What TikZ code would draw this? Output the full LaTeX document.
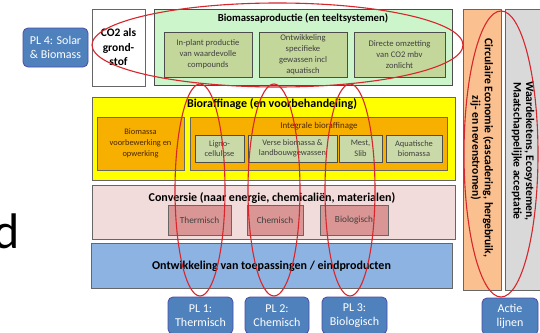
\documentclass[tikz,border=0pt]{standalone}
\usepackage{fontspec}
\setmainfont{Carlito}
\begin{document}
\begin{tikzpicture}[x=1pt,y=-1pt,
  box/.style={draw=#1, inner sep=0pt, outer sep=0pt, line width=0.8pt},
  plbox/.style={draw=blue!50!black!70!white, fill=plblue, rounded corners=5pt, inner sep=0pt, line width=0.8pt, text=white, align=center, font=\fontsize{12}{14.5}\selectfont},
  subg/.style={box=black!70, fill=subgreen, align=center, text=black!75, font=\fontsize{8.6}{11}\selectfont},
  subl/.style={box=black!70, fill=lightg, align=center, text=black!75, font=\fontsize{8.4}{10.5}\selectfont},
  subr/.style={box=black!60, fill=rosebox, align=center, text=black!75, font=\fontsize{9.3}{10}\selectfont},
  ttl/.style={font=\bfseries\fontsize{12}{14}\selectfont, inner sep=0pt},
  sidettl/.style={rotate=-90, align=center, inner sep=0pt, font=\bfseries\fontsize{11.6}{12.5}\selectfont},
  ring/.style={draw=ringred, line width=1.1pt}
]
\definecolor{plblue}{HTML}{4F81BD}
\definecolor{greenbg}{HTML}{CCF5CC}
\definecolor{subgreen}{HTML}{C4D79B}
\definecolor{yel}{HTML}{FFFF00}
\definecolor{orng}{HTML}{F7B000}
\definecolor{lightg}{HTML}{C9D9A8}
\definecolor{pinkbg}{HTML}{F2DCDB}
\definecolor{rosebox}{HTML}{D99694}
\definecolor{bluebg}{HTML}{8DB3E2}
\definecolor{peach}{HTML}{FAC090}
\definecolor{greybg}{HTML}{D9D9D9}
\definecolor{ringred}{HTML}{D7262C}
\useasboundingbox (0,0) rectangle (540,332);
\fill[white] (0,0) rectangle (540,332);

% left letter
\node[anchor=base east, inner sep=0pt, font=\fontsize{50}{50}\selectfont] (dd) at (20,248) {d};

% PL4
\node[plbox, minimum width=65pt, minimum height=39pt] (pl4) at (55.5,47.5) {PL 4: Solar\\\& Biomass};

% CO2
\node[box=black!60, fill=white, minimum width=53pt, minimum height=77pt, align=center, font=\bfseries\fontsize{11.5}{14.5}\selectfont] (co2) at (118.5,47.5) {CO2 als\\grond-\\stof};

% Biomassaproductie
\node[box=black!70, fill=greenbg, minimum width=298pt, minimum height=76pt] (bio) at (303,47) {};
\node[ttl, font=\bfseries\fontsize{10.7}{12}\selectfont] (biot) at (303,18) {Biomassaproductie (en teeltsystemen)};
\node[subg, minimum width=88pt, minimum height=45pt] (s1) at (208,54.5) {In-plant productie\\van waardevolle\\compounds};
\node[subg, minimum width=88pt, minimum height=45pt] (s2) at (303,54.5) {Ontwikkeling\\specifieke\\gewassen incl\\aquatisch};
\node[subg, minimum width=91pt, minimum height=45pt] (s3) at (399.5,54.5) {Directe omzetting\\van CO2 mbv\\zonlicht};

% Bioraffinage
\node[box=black!60, fill=yel, minimum width=363pt, minimum height=83pt] (raf) at (273.5,138.5) {};
\node[ttl] (raft) at (272,104.5) {Bioraffinage (en voorbehandeling)};
\node[box=black!60, fill=orng, minimum width=87pt, minimum height=53pt, align=center, text=black!70!orange, font=\fontsize{8.4}{11}\selectfont] (voor) at (140.5,143.5) {Biomassa\\voorbewerking en\\opwerking};
\node[box=black!60, fill=orng, minimum width=257pt, minimum height=53pt] (integ) at (318.5,143.5) {};
\node[inner sep=0pt, text=black!70!orange, font=\fontsize{8.9}{10}\selectfont] (integt) at (319,126) {Integrale bioraffinage};
\node[subl, minimum width=49pt, minimum height=27pt] (lig) at (219.5,148.5) {Ligno-\\cellulose};
\node[subl, minimum width=89pt, minimum height=27pt] (ver) at (292.5,148.5) {Verse biomassa \&\\landbouwgewassen};
\node[subl, minimum width=43pt, minimum height=27pt] (mest) at (360.5,148.5) {Mest,\\Slib};
\node[subl, minimum width=56pt, minimum height=27pt] (aq) at (414,148.5) {Aquatische\\biomassa};

% Conversie
\node[box=black!60, fill=pinkbg, minimum width=363pt, minimum height=54pt] (conv) at (273.5,212) {};
\node[ttl] (convt) at (272,198) {Conversie (naar energie, chemicaliën, materialen)};
\node[subr, minimum width=63pt, minimum height=30pt] (th) at (199.5,220) {Thermisch};
\node[subr, minimum width=56pt, minimum height=30pt] (ch) at (275,220) {Chemisch};
\node[subr, minimum width=68pt, minimum height=30pt] (bl) at (354,220) {Biologisch};

% Ontwikkeling
\node[box=black!60, fill=bluebg, minimum width=361pt, minimum height=45pt] (ont) at (271.5,265.5) {};
\node[ttl] (ontt) at (271.5,266.5) {Ontwikkeling van toepassingen / eindproducten};

% PL boxes
\node[plbox, minimum width=65pt, minimum height=37pt] (pl1) at (200.5,315.5) {PL 1:\\Thermisch};
\node[plbox, minimum width=64pt, minimum height=37pt] (pl2) at (277,315.5) {PL 2:\\Chemisch};
\node[plbox, minimum width=65pt, minimum height=37pt] (pl3) at (354.5,315.5) {PL 3:\\Biologisch};
\node[plbox, minimum width=56pt, minimum height=37pt] (act) at (510,316.5) {Actie\\lijnen};

% right columns
\node[box=black!60, fill=peach, minimum width=38pt, minimum height=281pt] (circ) at (482,149.5) {};
\node[sidettl] (circt) at (482,148) {Circulaire Economie (cascadering, hergebruik,\\zij- en nevenstromen)};
\node[box=black!60, fill=greybg, minimum width=36pt, minimum height=281pt] (wrd) at (523,149.5) {};
\node[sidettl] (wrdt) at (523,151) {Waardeketens, Ecosystemen,\\Maatschappelijke acceptatie};

% red rings
\draw[ring] (277.5,45) ellipse [x radius=185.5pt, y radius=42pt];
\draw[ring] (200,190) ellipse [x radius=25pt, y radius=106pt];
\draw[ring] (274,190) ellipse [x radius=26pt, y radius=106pt];
\draw[ring] (350,190) ellipse [x radius=25pt, y radius=106pt];
\draw[ring] (501,154) ellipse [x radius=37pt, y radius=143pt];
\end{tikzpicture}
\end{document}
